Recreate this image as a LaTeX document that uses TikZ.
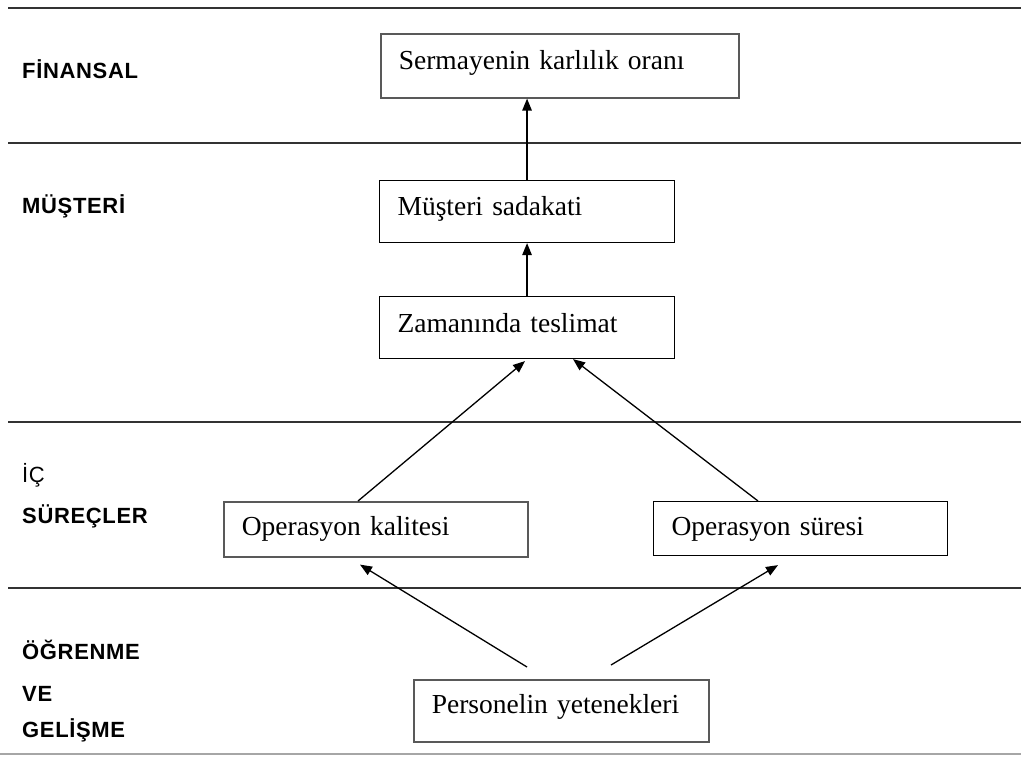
\documentclass[tikz,border=0pt]{standalone}
\usepackage{fontspec}
\setmainfont{Liberation Serif}
\newfontfamily\lblfont[LetterSpace=3]{Liberation Sans}
\usetikzlibrary{arrows.meta,calc}

\tikzset{
  rule/.style={draw=black!80, line width=1.6pt},
  lastrule/.style={draw=black!35, line width=1.5pt},
  card/.style={draw=black, line width=1.1pt, rectangle, anchor=north west,
    inner xsep=18pt, inner ysep=0pt, align=left,
    font=\fontsize{27.5}{33}\selectfont},
  softcard/.style={card, draw=black!65, line width=1.6pt},
  layer/.style={anchor=base west, inner sep=0pt,
    font=\lblfont\bfseries\fontsize{22}{26}\selectfont},
  layerplain/.style={anchor=base west, inner sep=0pt,
    font=\lblfont\fontsize{22}{26}\selectfont},
  link/.style={draw=black, line width=1.3pt,
    -{Triangle[length=12pt,width=9.5pt]}}
}

\begin{document}
\begin{tikzpicture}[x=1pt, y=-1pt]
  \useasboundingbox (0,0) rectangle (1021,756);

  % perspective separators
  \draw[rule] (8,8) -- (1021,8);
  \draw[rule] (8,143) -- (1021,143);
  \draw[rule] (8,422) -- (1021,422);
  \draw[rule] (8,588) -- (1021,588);
  \draw[lastrule] (0,754) -- (1021,754);

  % perspective names
  \node[layer] (lfin) at (22,78) {FİNANSAL};
  \node[layer] (lmus) at (22,213) {MÜŞTERİ};
  \node[layerplain] (lic) at (22,482) {İÇ};
  \node[layer] (lsur) at (22,523) {SÜREÇLER};
  \node[layer] (logr) at (22,659) {ÖĞRENME};
  \node[layer] (lve) at (22,701) {VE};
  \node[layer] (lgel) at (22,737) {GELİŞME};

  % measures
  \node[softcard, text width=322pt, text height=36pt, text depth=28pt]
    (b1) at (380,33) {Sermayenin karlılık oranı};
  \node[card, text width=259pt, text height=35pt, text depth=27pt]
    (b2) at (379,180) {Müşteri sadakati};
  \node[card, text width=259pt, text height=36pt, text depth=26pt]
    (b3) at (379,296) {Zamanında teslimat};
  \node[softcard, text width=268pt, text height=34pt, text depth=21pt]
    (b4) at (223,501) {Operasyon kalitesi};
  \node[card, text width=258pt, text height=34pt, text depth=20pt]
    (b5) at (653,501) {Operasyon süresi};
  \node[softcard, text width=259pt, text height=34pt, text depth=28pt]
    (b6) at (413,679) {Personelin yetenekleri};

  % cause and effect links
  \draw[link] (b2.north) -- (b1.south -| b2.north);
  \draw[link] (b3.north) -- (b2.south);
  \draw[link] ($(b4.north west)+(135pt,0pt)$) -- ($(b3.south west)+(146pt,-2pt)$);
  \draw[link] ($(b5.north west)+(105pt,0pt)$) -- ($(b3.south west)+(194pt,0pt)$);
  \coordinate (s1) at ($(b6.north west)+(114pt,12pt)$);
  \coordinate (s2) at ($(b6.north west)+(198pt,14pt)$);
  \draw[link] (s1) -- ($(b4.south west)+(137pt,-7pt)$);
  \draw[link] (s2) -- ($(b5.south west)+(125pt,-9pt)$);
\end{tikzpicture}
\end{document}
